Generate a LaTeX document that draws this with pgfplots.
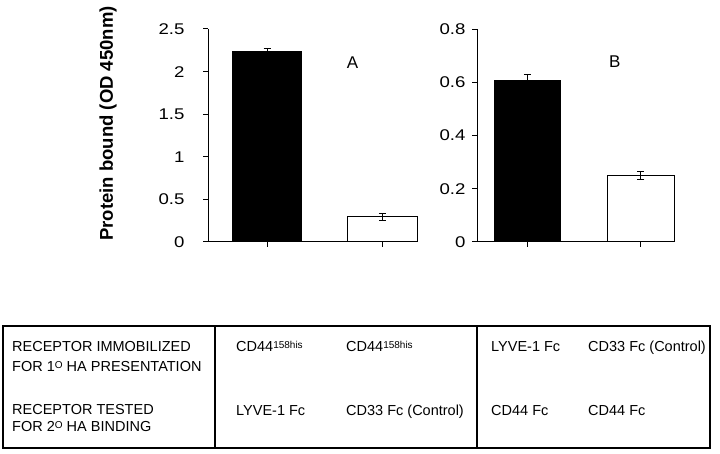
\documentclass[border=0pt]{standalone}
\usepackage{pgfplots}
\pgfplotsset{compat=1.18}
\usepackage{fontspec}
\setmainfont{Liberation Sans}
\newfontfamily\tickfont[FakeStretch=1.2]{Liberation Sans}
\begin{document}
\begin{tikzpicture}[x=1pt,y=1pt]
\useasboundingbox (0,0) rectangle (720,454);
\pgfplotsset{
  panel/.style={
    scale only axis, height=213pt, anchor=south west,
    ymin=0, axis lines=left, axis line style={-, line width=1pt, black},
    xtick={0,1}, xticklabels={,,},
    tick align=outside, major tick length=5pt,
    tick style={line width=1pt, black},
    /pgf/number format/assume math mode=true,
    /pgf/number format/fixed,
    yticklabel style={font=\tickfont\fontsize{15.5}{15.5}\selectfont},
    clip=false,
  },
  errb/.style={error bars/.cd, y dir=both, y explicit,
    error bar style={line width=1pt, black},
    error mark options={rotate=90, mark size=3.5pt, line width=1pt, black}},
}
% Panel A
\begin{axis}[panel, at={(208pt,212pt)}, width=209pt,
  xmin=-0.513, xmax=1.3, ymax=2.5, ytick={0,0.5,1,1.5,2,2.5},
  yticklabel style={xshift=-15pt}]
\addplot[ybar, bar width=0.6, fill=black, draw=black, line width=1pt, errb]
  coordinates {(0,2.24) +- (0,0.035)};
\addplot[ybar, bar width=0.6, fill=white, draw=black, line width=1pt, errb]
  coordinates {(1,0.295) +- (0,0.04)};
\node[font=\fontsize{17}{17}\selectfont] at (axis cs:0.74,2.10) {A};
\end{axis}
% Panel B
\begin{axis}[panel, at={(477pt,212pt)}, width=198pt,
  xmin=-0.445, xmax=1.3, ymax=0.8, ytick={0,0.2,0.4,0.6,0.8},
  yticklabel style={xshift=-3pt}]
\addplot[ybar, bar width=0.59, fill=black, draw=black, line width=1pt, errb]
  coordinates {(0,0.605) +- (0,0.025)};
\addplot[ybar, bar width=0.59, fill=white, draw=black, line width=1pt, errb]
  coordinates {(1,0.248) +- (0,0.015)};
\node[font=\fontsize{17}{17}\selectfont] at (axis cs:0.77,0.676) {B};
\end{axis}
% y label
\node[rotate=90, font=\bfseries\fontsize{18.5}{18.5}\selectfont] at (108,330.5) {Protein bound (OD 450nm)};
% table
\draw[line width=1.2pt] (3,6) rectangle (710,128);
\draw[line width=1.2pt] (215,6) -- (215,128);
\draw[line width=1.2pt] (477,6) -- (477,128);
\newcommand{\sups}[1]{\raisebox{3pt}{\fontsize{10}{10}\selectfont #1}}
\begin{scope}[every node/.style={anchor=base west, inner sep=0pt, font=\fontsize{14.5}{14.5}\selectfont}]
\node at (12,102) {RECEPTOR IMMOBILIZED};
\node at (12,82) {FOR 1\sups{O} HA PRESENTATION};
\node at (12,39) {RECEPTOR TESTED};
\node at (12,22) {FOR 2\sups{O} HA BINDING};
\node at (236,102) {CD44\sups{158his}};
\node at (346,102) {CD44\sups{158his}};
\node at (491,102) {LYVE-1 Fc};
\node at (588,102) {CD33 Fc (Control)};
\node at (236,38) {LYVE-1 Fc};
\node at (346,38) {CD33 Fc (Control)};
\node at (491,38) {CD44 Fc};
\node at (588,38) {CD44 Fc};
\end{scope}
\end{tikzpicture}
\end{document}
